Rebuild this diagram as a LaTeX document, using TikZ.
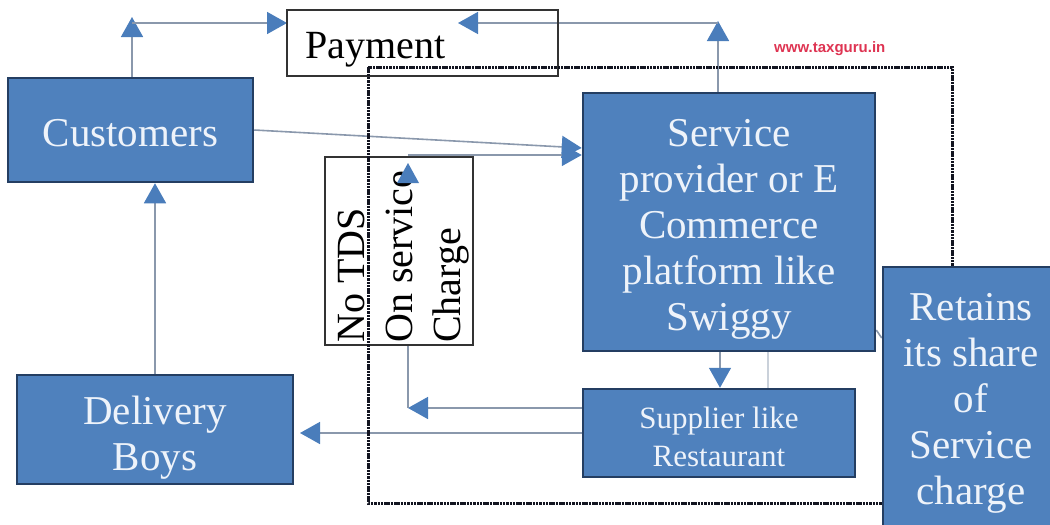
\documentclass[tikz,border=0pt]{standalone}
\usepackage{fontspec}
\setmainfont{Liberation Serif}
\newfontfamily\wmfont{Liberation Sans}
\usetikzlibrary{arrows.meta}
\definecolor{boxblue}{RGB}{79,129,189}
\definecolor{boxedge}{RGB}{36,62,98}
\definecolor{boxtext}{RGB}{238,243,250}
\definecolor{linkgray}{RGB}{138,152,172}
\definecolor{tipblue}{RGB}{74,125,187}
\definecolor{dotnavy}{RGB}{18,20,32}
\definecolor{markred}{RGB}{222,52,82}
\pgfdeclarelayer{back}
\pgfdeclarelayer{front}
\pgfsetlayers{back,main,front}
\tikzset{
  bluebox/.style={draw=boxedge, line width=2.5pt, fill=boxblue, inner sep=0pt},
  boxlabel/.style={text=boxtext, align=center, inner sep=0pt,
    font=\fontsize{41}{46}\selectfont},
  plainbox/.style={draw=black!80, line width=1.4pt, inner sep=0pt},
  link/.style={draw=linkgray, line width=1.6pt,
    -{Triangle[length=20pt,width=22pt,fill=tipblue,color=tipblue]}},
  plainlink/.style={draw=linkgray, line width=1.6pt},
  boundary/.style={draw=dotnavy, line width=3pt, dash pattern=on 2.5pt off 0.8pt},
}
\begin{document}
\begin{tikzpicture}[x=1pt,y=-1pt]
\useasboundingbox (0,0) rectangle (1050,525);
\clip (0,0) rectangle (1050,525);

% white boxes
\node[plainbox, fill=white, minimum width=148pt, minimum height=188pt] (notds) at (399,251) {};
\node[rotate=90, anchor=north west, inner sep=0pt, align=left,
      font=\fontsize{40}{48}\selectfont] (notdslabel) at (338,343) {No TDS\\On service\\Charge};
\node[plainbox, minimum width=271pt, minimum height=66pt] (pay) at (422.5,43) {};
\node[anchor=base west, inner sep=0pt, font=\fontsize{40}{48}\selectfont] (paylabel) at (305,58) {Payment};

% the boundary of the platform's share
\draw[boundary] (368,67) rectangle (952,503);

% blue boxes
\node[bluebox, minimum width=245pt, minimum height=104pt] (cust) at (130.5,130) {};
\node[bluebox, minimum width=292pt, minimum height=258pt] (svc) at (729,222) {};
\node[bluebox, minimum width=272pt, minimum height=88pt] (sup) at (719,433) {};
\node[bluebox, minimum width=276pt, minimum height=109pt] (del) at (155,429.5) {};
\node[bluebox, minimum width=200pt, minimum height=280pt] (ret) at (983,407) {};

% box texts
\node[boxlabel] (custtext) at (130.5,133) {Customers};
\node[boxlabel] (svctext) at (729,229.5)
  {Service\\provider or E\\Commerce\\platform like\\Swiggy};
\node[boxlabel, font=\fontsize{31}{38}\selectfont] (suptext) at (719,437) {Supplier like\\Restaurant};
\node[boxlabel] (deltext) at (155,438) {Delivery\\Boys};
\node[boxlabel] (rettext) at (971,403) {Retains\\its share\\of\\Service\\charge};

\node[anchor=base west, inner sep=0pt, text=markred,
      font=\wmfont\bfseries\fontsize{15}{18}\selectfont] (mark) at (774,52) {www.taxguru.in};

% connector end points
\coordinate (custup) at (132,17);
\coordinate (payin) at (287,23);
\coordinate (svcup) at (718,21);
\coordinate (payret) at (458,23);
\coordinate (turn) at (408,408);
\coordinate (turnup) at (408,163);
\coordinate (join) at (408,155);
\coordinate (delin) at (300,433);

\begin{pgfonlayer}{back}
  \clip (0,0) rectangle (1050,525);
  \draw[link] (cust.north -| custup) -- (custup);
  \draw[link] (custup |- payin) -- (payin);
  \draw[link] (svc.north -| svcup) -- (svcup);
  \draw[link] (svcup |- payret) -- (payret);
  \draw[link] (cust.east) -- (svc.west |- 0,148);
  \draw[link] (join) -- (svc.west |- join);
  \draw[link] (svc.south -| 720,0) -- (sup.north -| 720,0);
  \draw[plainlink, draw=linkgray!45] (svc.south -| 768,0) -- (sup.north -| 768,0);
  \draw[link] (sup.west |- turn) -- (turn);
  \draw[plainlink] (turn) -- (turnup);
  \draw[link] (sup.west |- delin) -- (delin);
  \draw[link] (del.north) -- (cust.south -| del.north);
  \draw[plainlink] (svc.east |- 0,330) -- (ret.west |- 0,338);
\end{pgfonlayer}

\begin{pgfonlayer}{front}
  \fill[tipblue] (turnup) -- ++(-11,20) -- ++(22,0) -- cycle;
\end{pgfonlayer}
\end{tikzpicture}
\end{document}
